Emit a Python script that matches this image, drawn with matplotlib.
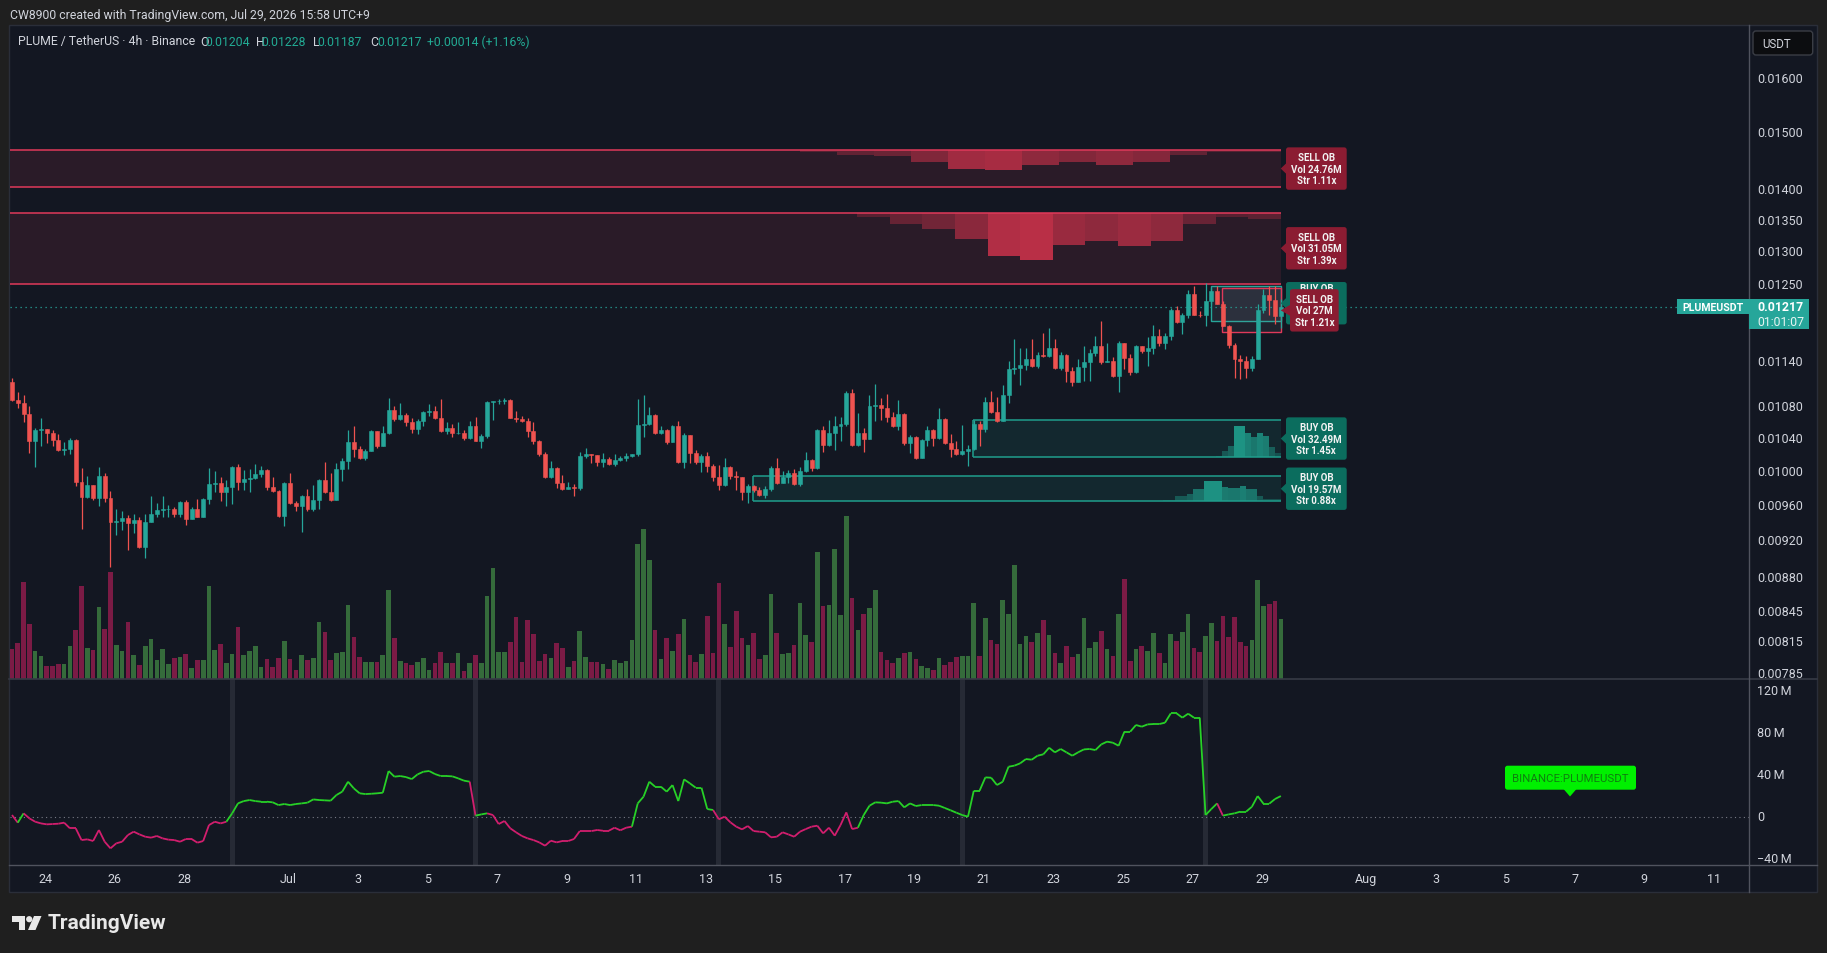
import numpy as np
import matplotlib
matplotlib.use("Agg")
import matplotlib.pyplot as plt
from matplotlib.collections import LineCollection
from matplotlib.patches import Rectangle, FancyBboxPatch, Polygon, Circle
from matplotlib.lines import Line2D
from matplotlib.transforms import IdentityTransform

plt.rcParams['font.family'] = ['Roboto', 'DejaVu Sans']

# ---------------- data (4h candles, first = Jun 23 01:00 UTC+9) ----------------
open0 = 0.01113
close = [0.01089,0.01085,0.01070,0.01037,0.01050,0.01052,0.01046,0.01038,0.01025,0.01027,
         0.01038,0.00987,0.00969,0.00983,0.00968,0.00994,0.00968,0.00941,0.00942,0.00945,
         0.00940,0.00943,0.00913,0.00941,0.00950,0.00954,0.00955,0.00956,0.00950,0.00964,
         0.00944,0.00956,0.00947,0.00967,0.00985,0.00986,0.00975,0.00981,0.01005,0.00987,
         0.00990,0.00992,0.00996,0.01001,0.00981,0.00976,0.00948,0.00986,0.00962,0.00959,
         0.00970,0.00955,0.00966,0.00989,0.00975,0.00966,0.01003,0.01012,0.01035,0.01027,
         0.01016,0.01024,0.01049,0.01031,0.01047,0.01076,0.01064,0.01069,0.01061,0.01052,
         0.01062,0.01073,0.01075,0.01066,0.01049,0.01053,0.01046,0.01047,0.01040,0.01056,
         0.01037,0.01043,0.01086,0.01087,0.01088,0.01089,0.01065,0.01064,0.01062,0.01049,
         0.01037,0.01021,0.00993,0.01004,0.00986,0.00979,0.00981,0.00980,0.01018,0.01021,
         0.01019,0.01011,0.01015,0.01008,0.01013,0.01016,0.01018,0.01020,0.01057,0.01058,
         0.01069,0.01047,0.01050,0.01035,0.01055,0.01011,0.01044,0.01022,0.01011,0.01018,
         0.01006,0.00993,0.00984,0.01005,0.00994,0.00993,0.00975,0.00982,0.00977,0.00972,
         0.00979,0.01004,0.00986,0.00993,0.00998,0.00985,0.01000,0.01013,0.01004,0.01050,
         0.01032,0.01046,0.01055,0.01058,0.01098,0.01032,0.01047,0.01039,0.01081,0.01082,
         0.01078,0.01067,0.01055,0.01070,0.01034,0.01041,0.01016,0.01038,0.01050,0.01040,
         0.01064,0.01034,0.01027,0.01021,0.01024,0.01027,0.01058,0.01051,0.01086,0.01073,
         0.01062,0.01095,0.01130,0.01131,0.01135,0.01144,0.01134,0.01149,0.01147,0.01159,
         0.01131,0.01149,0.01127,0.01113,0.01133,0.01140,0.01152,0.01162,0.01140,0.01141,
         0.01120,0.01165,0.01145,0.01126,0.01162,0.01154,0.01159,0.01176,0.01166,0.01175,
         0.01213,0.01195,0.01206,0.01236,0.01206,0.01205,0.01225,0.01241,0.01222,0.01190,
         0.01163,0.01143,0.01141,0.01131,0.01143,0.01212,0.01234,0.01227,0.01204,0.01217]
high = [0.01118,0.01099,0.01095,0.01081,0.01053,0.01066,0.01051,0.01050,0.01045,0.01035,
        0.01040,0.01039,0.01004,0.00994,0.00984,0.01005,0.00998,0.00976,0.00956,0.00953,
        0.00949,0.00950,0.00946,0.00950,0.00971,0.00962,0.00971,0.00960,0.00958,0.00965,
        0.00966,0.00958,0.00967,0.00968,0.01004,0.01000,0.00993,0.00989,0.01006,0.01008,
        0.01001,0.01003,0.01008,0.01006,0.01002,0.00993,0.00977,0.00987,0.00998,0.00965,
        0.00972,0.00979,0.00984,0.00990,0.01011,0.00998,0.01010,0.01016,0.01050,0.01055,
        0.01031,0.01027,0.01050,0.01048,0.01055,0.01091,0.01081,0.01085,0.01072,0.01065,
        0.01064,0.01075,0.01083,0.01081,0.01090,0.01061,0.01058,0.01060,0.01050,0.01062,
        0.01067,0.01045,0.01087,0.01088,0.01090,0.01091,0.01090,0.01074,0.01068,0.01066,
        0.01060,0.01038,0.01023,0.01012,0.01005,0.00995,0.00987,0.00985,0.01023,0.01028,
        0.01021,0.01019,0.01022,0.01017,0.01021,0.01018,0.01022,0.01021,0.01090,0.01095,
        0.01079,0.01071,0.01055,0.01051,0.01057,0.01062,0.01046,0.01044,0.01025,0.01021,
        0.01023,0.01009,0.01007,0.01016,0.01006,0.01000,0.00993,0.00985,0.00984,0.00981,
        0.00982,0.01006,0.01016,0.01000,0.01001,0.01002,0.01005,0.01023,0.01015,0.01051,
        0.01056,0.01063,0.01068,0.01067,0.01101,0.01103,0.01072,0.01053,0.01095,0.01110,
        0.01091,0.01096,0.01073,0.01089,0.01072,0.01044,0.01043,0.01039,0.01055,0.01052,
        0.01078,0.01065,0.01045,0.01036,0.01057,0.01032,0.01063,0.01062,0.01093,0.01101,
        0.01093,0.01108,0.01141,0.01171,0.01159,0.01159,0.01171,0.01153,0.01180,0.01186,
        0.01171,0.01153,0.01151,0.01132,0.01144,0.01162,0.01157,0.01176,0.01197,0.01165,
        0.01146,0.01168,0.01166,0.01151,0.01163,0.01162,0.01174,0.01191,0.01185,0.01180,
        0.01216,0.01219,0.01208,0.01242,0.01248,0.01211,0.01252,0.01245,0.01248,0.01225,
        0.01191,0.01166,0.01149,0.01147,0.01148,0.01222,0.01244,0.01248,0.01248,0.01228]
low = [0.01087,0.01078,0.01061,0.01022,0.01005,0.01031,0.01034,0.01030,0.01024,0.01019,
       0.01020,0.00982,0.00933,0.00968,0.00966,0.00959,0.00964,0.00892,0.00926,0.00932,
       0.00910,0.00928,0.00912,0.00901,0.00941,0.00947,0.00946,0.00946,0.00946,0.00947,
       0.00937,0.00944,0.00946,0.00946,0.00961,0.00975,0.00965,0.00959,0.00961,0.00977,
       0.00978,0.00975,0.00990,0.00993,0.00977,0.00975,0.00947,0.00936,0.00961,0.00953,
       0.00930,0.00953,0.00953,0.00956,0.00974,0.00965,0.00966,0.00988,0.01003,0.01017,
       0.01015,0.01013,0.01024,0.01028,0.01031,0.01045,0.01062,0.01063,0.01056,0.01046,
       0.01045,0.01055,0.01068,0.01064,0.01048,0.01045,0.01042,0.01045,0.01038,0.01039,
       0.01036,0.01028,0.01040,0.01063,0.01083,0.01083,0.01065,0.01060,0.01060,0.01042,
       0.01033,0.01018,0.00992,0.00992,0.00980,0.00978,0.00979,0.00971,0.00978,0.01016,
       0.01010,0.01006,0.01005,0.01007,0.01006,0.01012,0.01012,0.01017,0.01018,0.01042,
       0.01057,0.01045,0.01045,0.01033,0.01035,0.01010,0.01004,0.01010,0.01009,0.00999,
       0.00999,0.00988,0.00978,0.00982,0.00990,0.00978,0.00966,0.00963,0.00975,0.00971,
       0.00968,0.00976,0.00985,0.00986,0.00986,0.00984,0.00982,0.00999,0.01000,0.01003,
       0.01023,0.01031,0.01025,0.01037,0.01056,0.01031,0.01031,0.01023,0.01039,0.01062,
       0.01063,0.01061,0.01054,0.01050,0.01032,0.01022,0.01015,0.01016,0.01030,0.01031,
       0.01039,0.01033,0.01017,0.01019,0.01019,0.01006,0.01026,0.01031,0.01048,0.01072,
       0.01061,0.01062,0.01085,0.01123,0.01108,0.01128,0.01133,0.01131,0.01146,0.01146,
       0.01130,0.01129,0.01113,0.01107,0.01112,0.01114,0.01114,0.01148,0.01137,0.01139,
       0.01119,0.01099,0.01130,0.01122,0.01125,0.01152,0.01134,0.01151,0.01161,0.01157,
       0.01170,0.01194,0.01178,0.01201,0.01205,0.01203,0.01189,0.01222,0.01221,0.01189,
       0.01158,0.01118,0.01116,0.01118,0.01127,0.01143,0.01208,0.01206,0.01193,0.01187]
volume = [30,36,97,55,28,23,13,13,15,15,33,49,93,31,29,72,50,107,34,28,
          57,24,14,33,40,19,30,15,21,22,25,11,19,19,93,29,35,16,25,52,
          24,28,33,12,20,12,21,38,20,9,24,19,21,57,47,19,26,27,74,42,
          22,17,17,17,24,89,41,18,16,14,17,21,9,16,27,16,16,26,8,16,
          24,16,83,111,27,27,37,62,17,59,45,18,25,21,36,31,12,18,48,22,
          17,17,15,10,19,16,18,39,135,150,119,49,20,41,28,45,60,24,17,25,
          63,26,96,55,32,68,41,34,46,20,24,85,46,25,26,34,76,44,37,127,
          73,74,130,64,163,81,49,65,71,89,27,19,16,21,26,27,20,13,11,9,
          21,14,17,22,23,23,76,23,61,39,35,79,65,114,35,43,37,46,59,44,
          26,16,33,22,25,61,31,37,48,30,23,65,100,18,30,33,28,46,26,16,
          45,38,47,65,31,27,43,56,38,63,42,62,37,33,39,99,73,75,78,60]
cvd = [1.6,-5.7,3.2,-1.6,-4.8,-6.4,-7.3,-7.0,-6.7,-5.7,
       -11.1,-11.1,-22.3,-21.6,-23.2,-12.7,-23.9,-30.2,-25.4,-23.9,
       -17.5,-14.3,-16.9,-19.1,-20.0,-18.4,-20.7,-21.9,-22.3,-23.9,
       -21.3,-21.3,-24.8,-23.2,-8.0,-4.8,-6.4,-4.8,3.2,12.7,
       14.9,15.9,14.9,14.3,14.3,13.7,11.1,12.1,11.1,12.1,
       12.7,13.4,16.5,15.9,15.6,15.3,20.7,23.9,33.4,27.0,
       22.3,21.6,21.9,22.3,22.9,43.6,38.2,38.8,37.8,35.9,
       40.4,42.9,43.6,40.7,38.8,38.8,38.5,36.6,34.4,33.4,
       1.0,2.2,3.2,1.6,-7.0,-4.1,-11.1,-14.9,-18.4,-20.7,
       -22.3,-24.5,-27.7,-22.9,-24.5,-23.2,-23.2,-21.3,-13.7,-13.7,
       -13.7,-12.7,-13.4,-13.4,-10.5,-13.0,-10.5,-9.5,12.7,19.1,
       33.4,28.6,28.6,23.9,30.2,14.9,35.6,31.8,27.7,27.7,
       7.3,6.4,-2.5,0.0,-5.4,-9.5,-12.1,-8.9,-13.7,-14.3,
       -14.9,-19.7,-19.1,-14.9,-16.9,-19.1,-14.3,-11.8,-9.5,-8.6,
       -15.9,-10.5,-18.1,-8.0,4.1,-11.8,-10.5,1.6,10.5,13.7,
       13.4,12.7,14.3,14.9,8.9,12.7,10.2,11.1,11.1,11.1,
       10.5,8.3,6.1,3.8,1.6,0.0,24.8,24.8,37.5,37.2,
       30.2,33.4,47.7,48.7,50.9,55.0,54.4,58.2,59.5,65.8,
       61.4,64.6,61.4,58.2,61.4,64.2,64.6,63.6,69.0,71.6,
       70.6,67.7,81.1,81.1,87.5,85.9,88.1,88.4,88.4,89.7,
       98.6,98.6,94.5,98.3,94.5,94.5,1.6,7.3,12.7,1.0,
       2.2,3.2,4.8,4.8,9.5,19.7,12.4,12.4,16.9,19.7]
cvd_green_runs = [(1, 2), (37, 79), (80, 82), (107, 121), (146, 208), (209, 219)]
week_starts = [38, 80, 122, 164, 206]

# order blocks: (kind, top, bottom, start index, label lines)
ob_sell1 = ('sell', 0.014683, 0.014048, -2.0, ['SELL OB', 'Vol 24.76M', 'Str 1.11x'])
ob_sell2 = ('sell', 0.013618, 0.012515, -2.0, ['SELL OB', 'Vol 31.05M', 'Str 1.39x'])
ob_buy1 = ('buy', 0.010633, 0.010165, 165.9, ['BUY OB', 'Vol 32.49M', 'Str 1.45x'])
ob_buy2 = ('buy', 0.009938, 0.009645, 127.9, ['BUY OB', 'Vol 19.57M', 'Str 0.88x'])
ob_buy3 = ('buy', 0.012483, 0.011971, 206.9, ['BUY OB'])
ob_sell3 = ('sell', 0.012443, 0.011806, 208.8, ['SELL OB', 'Vol 27M', 'Str 1.21x'])
sell1_profile = [0.06, 0.12, 0.17, 0.31, 0.50, 0.55, 0.39, 0.32, 0.39, 0.33, 0.12, 0.06, 0.06]
sell2_profile = [0.06, 0.15, 0.22, 0.37, 0.61, 0.66, 0.46, 0.39, 0.47, 0.39, 0.16, 0.06, 0.08]
buy1_profile = [0.04, 0.18, 0.31, 0.84, 0.84, 0.65, 0.53, 0.66, 0.58, 0.27, 0.11]
buy2_profile = [0.05, 0.05, 0.20, 0.20, 0.29, 0.49, 0.49, 0.80, 0.81, 0.81,
                0.56, 0.53, 0.53, 0.61, 0.49, 0.49, 0.20, 0.09, 0.09, 0.09]

price_ticks = [0.016, 0.015, 0.014, 0.0135, 0.013, 0.0125, 0.0114, 0.0108, 0.0104,
               0.0100, 0.0096, 0.0092, 0.0088, 0.00845, 0.00815, 0.00785]
cvd_ticks = [120, 80, 40, 0, -40]
cvd_tick_labels = ['120\u2009M', '80\u2009M', '40\u2009M', '0', '\u221240\u2009M']
date_days = [0, 2, 4, 7, 9, 11, 13, 15, 17, 19, 21, 23, 25, 27, 29, 31, 33, 35, 38, 40, 42, 44, 46, 48]
date_labels = ['24', '26', '28', 'Jul', '3', '5', '7', '9', '11', '13', '15', '17', '19', '21',
               '23', '25', '27', '29', 'Aug', '3', '5', '7', '9', '11']
last_price = 0.01217

# ---------------- layout helpers ----------------
W, H = 1827, 954
fig = plt.figure(figsize=(W / 100, H / 100), dpi=100)
fig.patch.set_facecolor('#1f1f1f')
ID = IdentityTransform()

def rect(x0, y0, x1, y1):
    return [x0 / W, 1 - y1 / H, (x1 - x0) / W, (y1 - y0) / H]

def add_box(x0, y0, x1, y1, fc, ec='none', lw=0.0, z=5, rs=0.0):
    if rs > 0:
        p = FancyBboxPatch((x0, H - y1), x1 - x0, y1 - y0,
                           boxstyle='round,pad=0,rounding_size=%g' % rs,
                           transform=ID, fc=fc, ec=ec, lw=lw, zorder=z)
    else:
        p = Rectangle((x0, H - y1), x1 - x0, y1 - y0, transform=ID, fc=fc, ec=ec, lw=lw, zorder=z)
    fig.add_artist(p)

def add_poly(pts, fc, z=5):
    fig.add_artist(Polygon([(x, H - y) for x, y in pts], closed=True, transform=ID, fc=fc, ec='none', zorder=z))

def add_line(x0, y0, x1, y1, color, lw=1.0, z=4):
    fig.add_artist(Line2D([x0, x1], [H - y0, H - y1], transform=ID, color=color, lw=lw, zorder=z))

def ftext(x, y, s, **kw):
    fig.text(x / W, 1 - y / H, s, **kw)

def d2p(a, x, y):
    X, Y = a.transData.transform((x, y))
    return X, H - Y

# ---------------- frame ----------------
add_box(9, 26, 1817, 893, '#131722', ec='#2a2e39', lw=1.0, z=-5)
ftext(10, 15, 'CW8900 created with TradingView.com, Jul 29, 2026 15:58 UTC+9',
      color='#d1d4dc', fontsize=8.8, va='center')

n = len(close)
idx = np.arange(n)
c = np.array(close)
o = np.concatenate([[open0], c[:-1]])
hi = np.maximum(np.array(high), np.maximum(o, c))
lo = np.minimum(np.array(low), np.minimum(o, c))
up = c >= o
XL = (-0.345, 299.8)

# volume axes (below)
axv = fig.add_axes(rect(10, 27, 1749, 680), zorder=1)
axv.set_facecolor('none')
axv.axis('off')
axv.set_xlim(*XL)
axv.set_ylim(0, 653)
axv.bar(idx, volume, width=0.8, color=np.where(up, '#356b3b', '#7b1b45'), linewidth=0)

# price axes
ax = fig.add_axes(rect(10, 27, 1749, 680), zorder=2)
ax.set_facecolor('none')
ax.axis('off')
ax.set_yscale('log')
ax.set_xlim(*XL)
ax.set_ylim(0.0077965, 0.017034)

# order block zones
def draw_zone(ob, profile, p_start, z=1):
    kind, top, bot, start, _ = ob
    if kind == 'sell':
        fill, edge, pc = '#2a1b28', '#e0395a', '#e0354f'
    else:
        fill, edge, pc = '#13282f', '#1f9e8c', '#1fa390'
    ax.add_patch(Rectangle((start, bot), 219 - start, top - bot, fc=fill, ec='none', zorder=z))
    if profile is not None:
        k = len(profile)
        w = (219 - p_start) / k
        for j, f in enumerate(profile):
            if kind == 'sell':
                y0 = top * (bot / top) ** f
                ax.add_patch(Rectangle((p_start + j * w, y0), w, top - y0, fc=pc,
                                       alpha=min(0.2 + 0.9 * f, 0.85), ec='none', zorder=z + 0.1))
            else:
                y1 = bot * (top / bot) ** f
                ax.add_patch(Rectangle((p_start + j * w, bot), w, y1 - bot, fc=pc,
                                       alpha=min(0.25 + 0.75 * f, 0.9), ec='none', zorder=z + 0.1))
    ax.hlines([top, bot], start, 219, colors=edge, lw=1.1, zorder=z + 0.2)
    if start > 0:
        ax.vlines([start], bot, top, colors=edge, lw=1.1, zorder=z + 0.2)

draw_zone(ob_sell1, sell1_profile, 136.0)
draw_zone(ob_sell2, sell2_profile, 145.9)
draw_zone(ob_buy1, buy1_profile, 207.8)
draw_zone(ob_buy2, buy2_profile, 198.7)

# small overlapping boxes at the right
ax.add_patch(Rectangle((ob_buy3[3], ob_buy3[2]), 219 - ob_buy3[3], ob_buy3[1] - ob_buy3[2],
                       fc=(0.55, 0.57, 0.62, 0.13), ec='#26a69a', lw=1.0, zorder=1.5))
ax.add_patch(Rectangle((ob_sell3[3], ob_sell3[2]), 219 - ob_sell3[3], ob_sell3[1] - ob_sell3[2],
                       fc=(0.55, 0.57, 0.62, 0.10), ec='#e0395a', lw=1.0, zorder=1.6))

# candles
ccol = np.where(up, '#26a69a', '#ef5350')
ax.vlines(idx, lo, hi, colors=ccol, lw=0.9, zorder=3)
ax.bar(idx, np.maximum(o, c) - np.minimum(o, c), bottom=np.minimum(o, c), width=0.68,
       color=ccol, edgecolor=ccol, linewidth=0.4, zorder=4)

# last price line
ax.axhline(last_price, color='#26a69a', lw=0.9, ls=(0, (1, 3)), zorder=2)

# ---------------- indicator pane ----------------
axi = fig.add_axes(rect(10, 680, 1749, 866), zorder=2)
axi.set_facecolor('none')
axi.axis('off')
axi.set_xlim(*XL)
axi.set_ylim(-46.1, 131.4)
for ws in week_starts:
    axi.axvspan(ws - 0.45, ws + 0.45, color='#262a35', lw=0, zorder=1)
axi.axhline(0, color='#787b86', lw=0.8, ls=(0, (1, 3)), zorder=2)
cv = np.array(cvd)
segs = np.stack([np.column_stack([idx[:-1], cv[:-1]]), np.column_stack([idx[1:], cv[1:]])], axis=1)
seg_col = []
for k in range(n - 1):
    g = any(a <= k < b for a, b in cvd_green_runs)
    seg_col.append('#27d127' if g else '#d21e6e')
axi.add_collection(LineCollection(segs, colors=seg_col, linewidths=1.3, zorder=3))

# ---------------- separators / axes lines ----------------
add_line(9, 680, 1817, 680, '#363a45', lw=1.2)
add_line(9, 866, 1817, 866, '#50535e', lw=1.0)
add_line(1749, 26, 1749, 893, '#50535e', lw=1.0)

# ---------------- right price scale ----------------
for p in price_ticks:
    _, yp = d2p(ax, 0, p)
    ftext(1757, yp, '%.5f' % p, color='#d1d4dc', fontsize=9, va='center', ha='left')
for v, lab in zip(cvd_ticks, cvd_tick_labels):
    _, yp = d2p(axi, 0, v)
    ftext(1757, yp, lab, color='#d1d4dc', fontsize=9, va='center', ha='left')

# date axis
for d, lab in zip(date_days, date_labels):
    xi = 6 * d + 5.75
    xp, _ = d2p(axi, xi, 0)
    ftext(xp, 880, lab, color='#d1d4dc', fontsize=9, va='center', ha='center')

# USDT box
add_box(1753, 32, 1812.7, 56, '#0c0d10', ec='#3a3d45', lw=1.0, z=6, rs=3)
ftext(1762, 44, 'USDT', color='#d1d4dc', fontsize=8.3, va='center', ha='left', zorder=7)

# last price labels
_, yl = d2p(ax, 0, last_price)
add_box(1677.3, yl - 7.5, 1749, yl + 7.5, '#26a69a', z=6)
ftext(1713, yl, 'PLUMEUSDT', color='#ffffff', fontsize=7.6, fontweight='bold', va='center', ha='center', zorder=7)
add_box(1749, yl - 7.5, 1809.3, yl + 22.5, '#26a69a', z=6)
ftext(1757.5, yl, '%.5f' % last_price, color='#ffffff', fontsize=8.8, fontweight='bold', va='center', ha='left', zorder=7)
ftext(1757.5, yl + 14.4, '01:01:07', color='#e6f5f2', fontsize=8.8, va='center', ha='left', zorder=7)

# legend line
ftext(18, 42, 'PLUME / TetherUS \u00b7 4h \u00b7 Binance', color='#d1d4dc', fontsize=8.8, va='center')
leg = [(199.8, 'O', '#d1d4dc'), (205.5, '0.01204', '#22ab94'), (255.6, 'H', '#d1d4dc'),
       (261.8, '0.01228', '#22ab94'), (312.7, 'L', '#d1d4dc'), (317.6, '0.01187', '#22ab94'),
       (370.5, 'C', '#d1d4dc'), (377.0, '0.01217', '#22ab94'), (426.7, '+0.00014 (+1.16%)', '#22ab94')]
for xx, s, col in leg:
    ftext(xx, 42, s, color=col, fontsize=8.8, va='center')

# order block labels
def ob_label(ob, x0, x1, bg, z=8, first_dy=-11.7):
    kind, top, bot, _, lines = ob
    _, yc = d2p(ax, 0, np.sqrt(top * bot))
    h = 42.4
    add_box(x0, yc - h / 2, x1, yc + h / 2, bg, z=z, rs=2.5)
    add_poly([(x0 + 1, yc - 6), (1280.7, yc), (x0 + 1, yc + 6)], bg, z=z)
    for j, s in enumerate(lines):
        ftext((x0 + x1) / 2, yc + first_dy + 11.7 * j, s, color='#f2f2f2', fontsize=7, fontweight='bold',
              va='center', ha='center', zorder=z + 0.5)

ob_label(ob_sell1, 1286, 1346.7, '#8b1c32')
ob_label(ob_sell2, 1286, 1346.7, '#8b1c32')
ob_label(ob_buy1, 1286, 1346.7, '#0b6d5e')
ob_label(ob_buy2, 1286, 1346.7, '#0b6d5e')
ob_label(ob_buy3, 1286, 1346.7, '#0b6d5e', z=8, first_dy=-15.5)
ob_label(ob_sell3, 1290, 1338.7, '#8b1c32', z=9)

# indicator symbol label
add_box(1505, 766.7, 1636, 790.7, '#00f000', z=8, rs=2.5)
add_poly([(1563.5, 790), (1576.5, 790), (1570, 797.5)], '#00f000', z=8)
ftext(1570.5, 778.7, 'BINANCE:PLUMEUSDT', color='#0f7f0f', fontsize=8.2, va='center', ha='center', zorder=9)

# TradingView logo
add_poly([(12, 917), (25, 917), (25, 931), (19, 931), (19, 923), (12, 923)], '#e8e8e8', z=6)
fig.add_artist(Circle((29.2, H - 920.2), 3.1, transform=ID, fc='#e8e8e8', ec='none', zorder=6))
add_poly([(34, 917), (41.5, 917), (35.5, 931), (28, 931)], '#e8e8e8', z=6)
ftext(48, 924, 'TradingView', color='#e8e8e8', fontsize=15, fontweight='bold', va='center', ha='left')

fig.savefig('out.png', dpi=100, facecolor=fig.get_facecolor())
